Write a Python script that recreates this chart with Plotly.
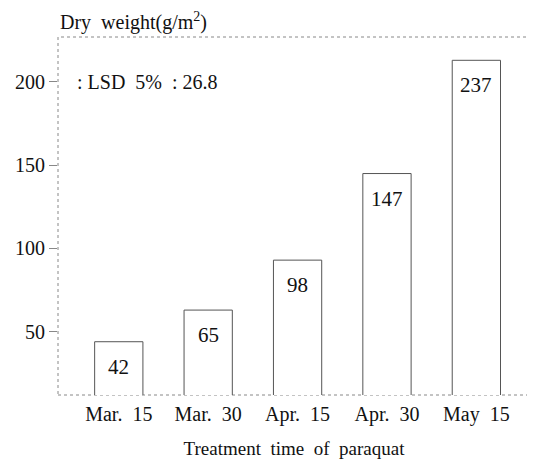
import plotly.graph_objects as go

categories = ["Mar.  15", "Mar.  30", "Apr.  15", "Apr.  30", "May  15"]
value_labels = ["42", "65", "98", "147", "237"]
bar_heights = [44, 63, 93, 145, 213]
y_ticks = [50, 100, 150, 200]

FONT = "Liberation Serif, Times New Roman, serif"

fig = go.Figure()
fig.add_trace(go.Bar(
    x=list(range(len(categories))), y=bar_heights,
    width=0.54,
    marker=dict(color="white", line=dict(color="#555", width=1)),
    showlegend=False, hoverinfo="skip",
))

for i, (h, t) in enumerate(zip(bar_heights, value_labels)):
    fig.add_annotation(x=i, y=h, text=t, showarrow=False, yshift=-25,
                       font=dict(family=FONT, size=21, color="#111"))

fig.add_annotation(xref="paper", yref="paper", x=0.0, y=1.0, yshift=1, xanchor="left", yanchor="bottom",
                   text="Dry  weight(g/m<sup>2</sup>)", showarrow=False,
                   font=dict(family=FONT, size=20, color="#111"))
fig.add_annotation(xref="paper", yref="y", x=0.035, y=200, xanchor="left", yanchor="middle",
                   text=": LSD  5%  : 26.8", showarrow=False,
                   font=dict(family=FONT, size=20, color="#111"))

fig.add_shape(type="rect", xref="paper", yref="paper", x0=0, x1=1, y0=0, y1=1,
              line=dict(color="#888", width=1, dash="dot"), layer="below")

fig.update_layout(
    width=527, height=451,
    margin=dict(l=50, r=5, t=29, b=64, autoexpand=False),
    plot_bgcolor="white", paper_bgcolor="white",
    font=dict(family=FONT, size=20, color="#111"),
    xaxis=dict(
        tickmode="array", tickvals=list(range(len(categories))), ticktext=categories,
        range=[-0.68, 4.6], showgrid=False, zeroline=False, showline=False,
        ticks="", tickfont=dict(family=FONT, size=20), automargin=False,
        ticklabelstandoff=5,
        title=dict(text="Treatment  time  of  paraquat", font=dict(family=FONT, size=19), standoff=22),
    ),
    yaxis=dict(
        range=[12, 227], tickvals=y_ticks, showgrid=False, zeroline=False, showline=False,
        ticks="outside", ticklen=8, tickcolor="#888", tickwidth=1, automargin=False,
        tickfont=dict(family=FONT, size=20),
    ),
)

fig.write_html("out.html")
